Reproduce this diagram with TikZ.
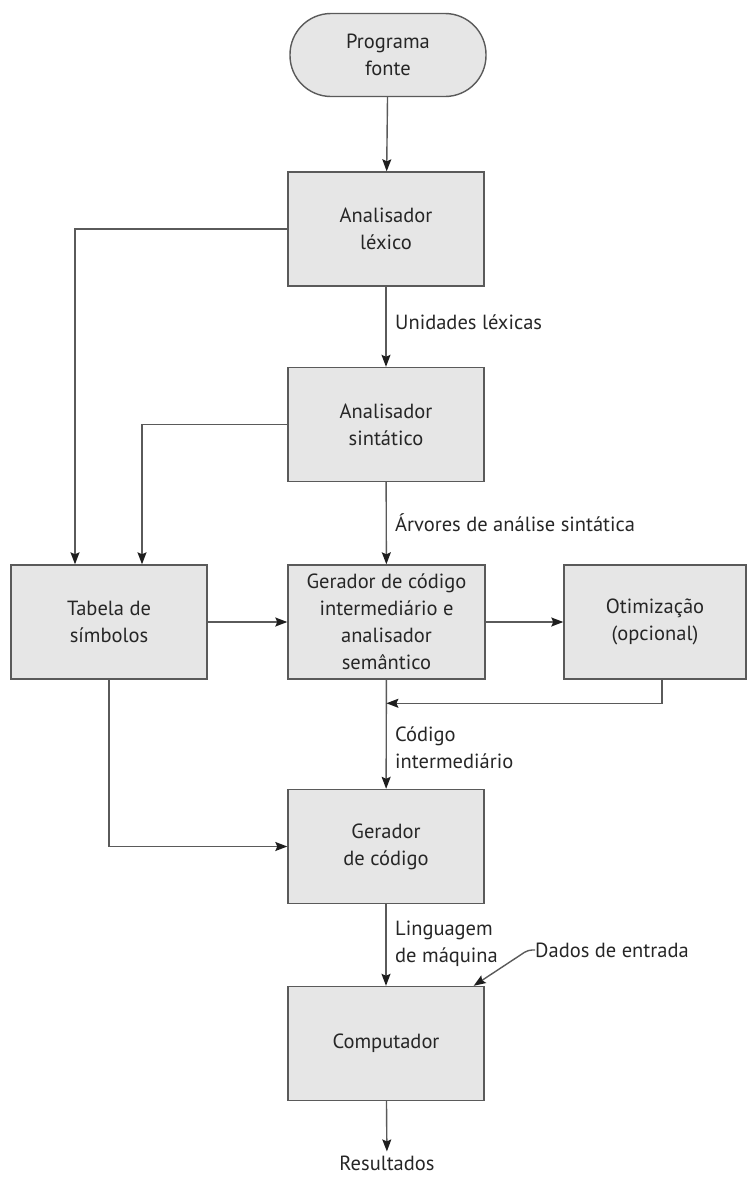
\documentclass[tikz,border=0pt]{standalone}
\usepackage{fontspec}
\setmainfont{PT Sans}
\usetikzlibrary{arrows.meta,calc}
\definecolor{boxfill}{HTML}{E6E6E6}
\definecolor{edge}{HTML}{5A5A5A}
\definecolor{ink}{HTML}{262626}
\definecolor{tip}{HTML}{1E1E1E}

\tikzset{
  txt/.style={text=ink, font=\fontsize{20.5}{27}\selectfont},
  block/.style={txt, draw=edge, fill=boxfill, line width=1.4pt,
    minimum width=196pt, minimum height=114pt, align=center, inner sep=0pt},
  terminal/.style={block, rounded corners=41pt, minimum height=83pt},
  flow/.style={draw=edge, line width=1.4pt,
    -{Stealth[length=12pt,width=9pt,inset=2pt,color=tip,fill=tip]}},
  lbl/.style={txt, anchor=west, inner sep=0pt, align=left},
}

\begin{document}
\begin{tikzpicture}[x=1pt,y=-1pt]
\useasboundingbox (0,0) rectangle (748,1178);

% stages of the compiler
\node[terminal] (prog) at (388,55) {Programa\\fonte};
\node[block] (lex) at (386,229) {Analisador\\léxico};
\node[block] (sin) at (386,424.5) {Analisador\\sintático};
\node[block] (tab) at (109,622) {Tabela de\\símbolos};
\node[block, minimum width=197pt] (gci) at (386.5,622) {Gerador de código\\intermediário e\\analisador\\semântico};
\node[block, minimum width=182pt] (otm) at (655,622) {Otimização\\(opcional)};
\node[block] (gc) at (386,846.5) {Gerador\\de código};
\node[block] (comp) at (386,1043.5) {Computador};
\node[txt, inner sep=0pt] (res) at (387,1163) {Resultados};

% edge labels
\node[lbl] (l1) at (395,322) {Unidades léxicas};
\node[lbl] (l2) at (395,523) {Árvores de análise sintática};
\node[lbl] (l3) at (395,748) {Código\\intermediário};
\node[lbl] (l4) at (395,943.5) {Linguagem\\de máquina};
\node[lbl] (dados) at (535,950) {Dados de entrada};

% main flow
\draw[flow] (prog) -- (lex);
\draw[flow] (lex) -- (sin);
\draw[flow] (sin) -- (gci);
\draw[flow] (gci) -- (gc);
\draw[flow] (gc) -- (comp);
\draw[flow, shorten >=4pt] (comp) -- (res);

% symbol table links
\draw[flow] (lex.west) -| ([xshift=-34pt]tab.north);
\draw[flow] (sin.west) -| ([xshift=33pt]tab.north);
\draw[flow] (tab) -- (gci);
\draw[flow] (tab.south) |- (gc.west);

% optimisation loop
\coordinate (join) at ($(gci.south)!0.216!(gc.north)$);
\draw[flow] (gci) -- (otm);
\draw[flow] ([xshift=7pt]otm.south) |- (join);

% input data
\draw[flow, rounded corners=4pt] (dados.west) -- ++(-7,0) -- ([xshift=-11pt]comp.north east);
\end{tikzpicture}
\end{document}
